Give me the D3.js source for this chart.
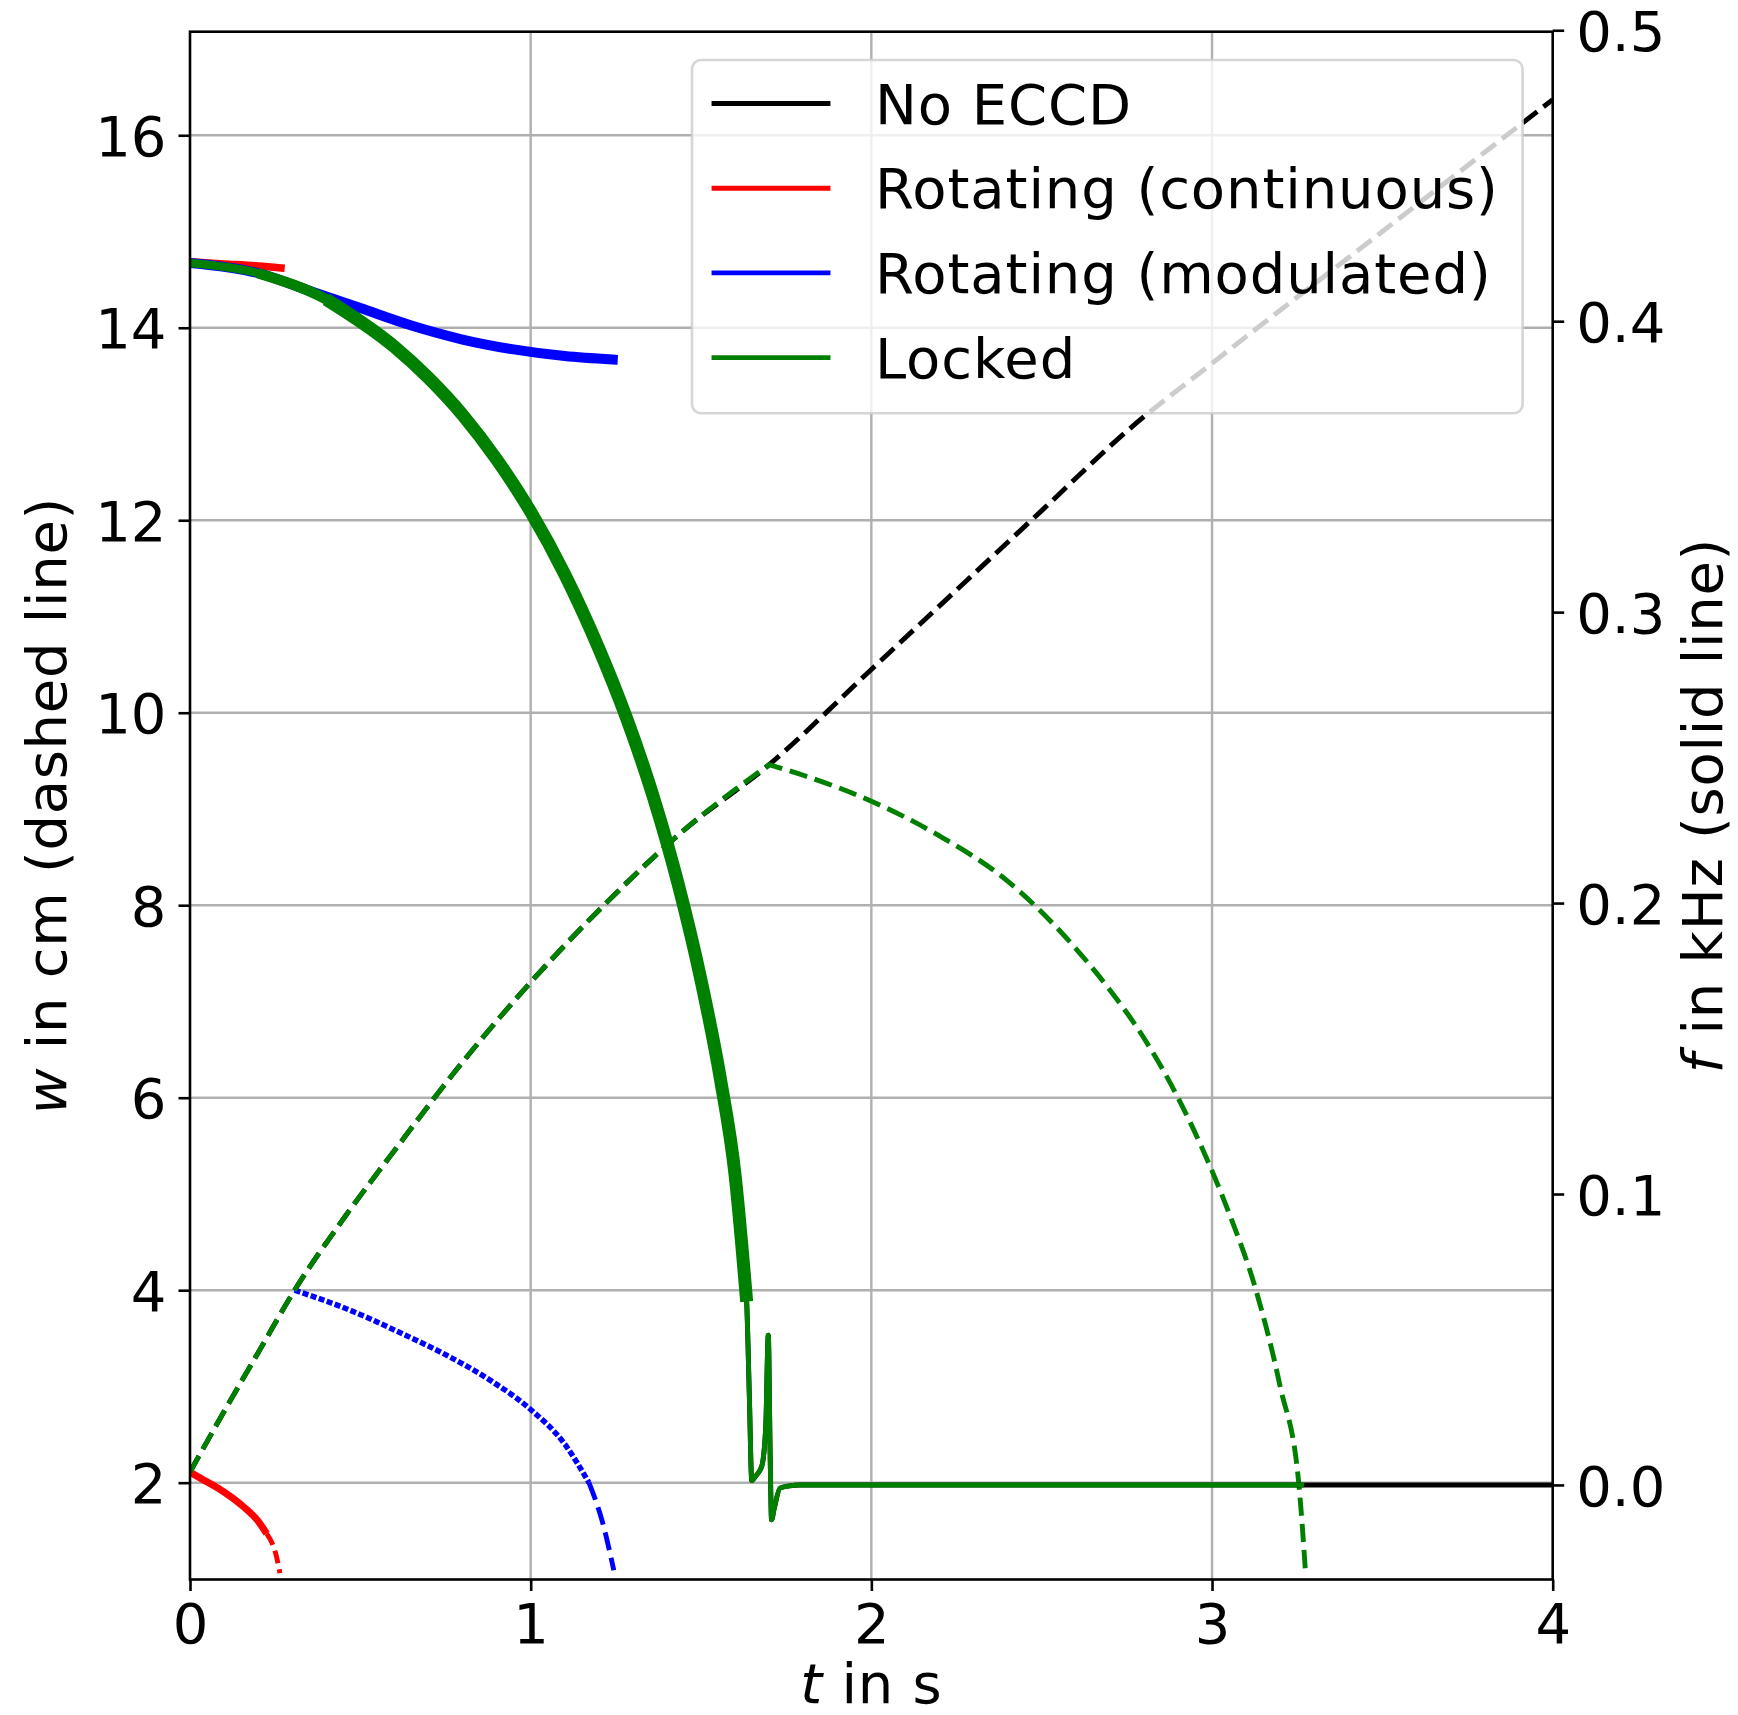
<!DOCTYPE html>
<html>
<head>
<meta charset="utf-8">
<script src="https://cdn.jsdelivr.net/npm/d3@7"></script>
<style>
  html, body { margin: 0; padding: 0; background: #fff; }
  svg { display: block; font-family: "DejaVu Sans", sans-serif; }
</style>
</head>
<body>
<svg id="chart" width="1738" height="1715"></svg>
<script>
// ---------------- data ----------------
const xTicks = [0, 1, 2, 3, 4];
const wTicks = [2, 4, 6, 8, 10, 12, 14, 16];
const fTicks = [0.0, 0.1, 0.2, 0.3, 0.4, 0.5];
const seriesNames = ["No ECCD", "Rotating (continuous)", "Rotating (modulated)", "Locked"];

// island width w (cm) vs time t (s)
const noEccdWT = [0, 0.1, 0.2, 0.307, 0.45, 0.602, 0.8, 1.0, 1.215, 1.45, 1.7, 2.0, 2.5, 2.758, 3.0, 3.5, 4.0];
const noEccdW  = [2.11, 2.74, 3.35, 4.0, 4.74, 5.46, 6.37, 7.2, 8.0, 8.78, 9.46, 10.45, 12.1, 12.95, 13.63, 15.0, 16.37];

const rotContWT = [0, 0.029, 0.084, 0.157, 0.2, 0.225, 0.254, 0.264];
const rotContW  = [2.11, 2.05, 1.94, 1.75, 1.6, 1.47, 1.23, 1.06];

const rotModWT = [0.307, 0.45, 0.622, 0.75, 0.883, 1.0, 1.1, 1.171, 1.21, 1.244];
const rotModW  = [4.0, 3.82, 3.55, 3.33, 3.06, 2.76, 2.4, 2.0, 1.6, 1.09];

const lockedWT = [0, 0.1, 0.2, 0.307, 0.45, 0.602, 0.8, 1.0, 1.215, 1.45, 1.7,
                  1.8, 2.0, 2.2, 2.4, 2.6, 2.7, 2.8, 2.9, 2.973, 3.05, 3.129, 3.2, 3.255, 3.274];
const lockedW  = [2.11, 2.74, 3.35, 4.0, 4.74, 5.46, 6.37, 7.2, 8.0, 8.78, 9.46,
                  9.35, 9.08, 8.72, 8.25, 7.55, 7.12, 6.62, 6.0, 5.46, 4.8, 4.0, 3.0, 1.98, 1.09];
const lockOnsetT = 1.7;

// mode frequency f (kHz) vs time t (s)
const noEccdFT = [0, 0.2, 0.4, 0.6, 0.7, 0.8, 0.9, 1.0, 1.1, 1.2, 1.28, 1.36, 1.433, 1.5, 1.557, 1.6, 1.634,
                  1.642, 1.649, 1.66, 1.678, 1.69, 1.6975, 1.703, 1.707, 1.715, 1.732, 1.76, 1.79, 4.0];
const noEccdF  = [0.420, 0.4165, 0.4075, 0.3912, 0.3805, 0.3678, 0.3525, 0.3345, 0.313, 0.2875, 0.264, 0.2365, 0.2065, 0.1735, 0.1395, 0.1065, 0.063,
                  0.03, 0.0015, 0.003, 0.0063, 0.02, 0.0515, 0.01, -0.012, -0.008, -0.0011, -0.0003, 0.0, 0.0];

const rotContFT = [0, 0.1, 0.2, 0.267];
const rotContF  = [0.4204, 0.4197, 0.419, 0.4183];

const rotModFT = [0, 0.2, 0.35, 0.5, 0.65, 0.8, 0.95, 1.1, 1.241];
const rotModF  = [0.420, 0.4165, 0.4105, 0.4045, 0.3985, 0.3937, 0.3903, 0.3880, 0.3868];

const lockedFT = [0, 0.2, 0.4, 0.6, 0.7, 0.8, 0.9, 1.0, 1.1, 1.2, 1.28, 1.36, 1.433, 1.5, 1.557, 1.6, 1.634,
                  1.642, 1.649, 1.66, 1.678, 1.69, 1.6975, 1.703, 1.707, 1.715, 1.732, 1.76, 1.79, 2.5, 3.27];
const lockedF  = [0.420, 0.4165, 0.4075, 0.3912, 0.3805, 0.3678, 0.3525, 0.3345, 0.313, 0.2875, 0.264, 0.2365, 0.2065, 0.1735, 0.1395, 0.1065, 0.063,
                  0.03, 0.0015, 0.003, 0.0063, 0.02, 0.0515, 0.01, -0.012, -0.008, -0.0011, -0.0003, 0.0, 0.0, 0.0];
const oscillationEndT = 1.634;

// ---------------- layout ----------------
const svg = d3.select("#chart");
const W = 1738, H = 1715;
const plot = { left: 190, right: 1552.7, top: 31.7, bottom: 1579.5 };
const FONT = 56;
const LW = 4.9;            // base line width
const DASH = "18.3,7.9";   // standard dash pattern
const colors = ["#000000", "#ff0000", "#0000ff", "#008000"];

svg.append("rect").attr("width", W).attr("height", H).attr("fill", "#fff");

const x = d3.scaleLinear().domain([0, 4]).range([plot.left, plot.right]);
const yW = d3.scaleLinear().domain([0.994, 17.076]).range([plot.bottom, plot.top]);
const yF = d3.scaleLinear().domain([-0.0325, 0.4995]).range([plot.bottom, plot.top]);

svg.append("defs").append("clipPath").attr("id", "plotclip")
  .append("rect")
  .attr("x", plot.left).attr("y", plot.top)
  .attr("width", plot.right - plot.left).attr("height", plot.bottom - plot.top);

// ---------------- grid ----------------
const grid = svg.append("g").attr("stroke", "#b0b0b0").attr("stroke-width", 2.4);
grid.selectAll("line.h").data(wTicks).join("line")
  .attr("x1", plot.left).attr("x2", plot.right)
  .attr("y1", d => yW(d)).attr("y2", d => yW(d));
grid.selectAll("line.v").data(xTicks.filter(d => d > 0 && d < 4)).join("line")
  .attr("y1", plot.top).attr("y2", plot.bottom)
  .attr("x1", d => x(d)).attr("x2", d => x(d));

// ---------------- line helpers ----------------
const pts = (ts, vs) => ts.map((t, i) => [t, vs[i]]);
const lineW = d3.line().x(d => x(d[0])).y(d => yW(d[1])).curve(d3.curveMonotoneX);
const lineF = d3.line().x(d => x(d[0])).y(d => yF(d[1])).curve(d3.curveMonotoneX);

function drawPath(g, d, color, width, dash, cap) {
  return g.append("path")
    .attr("d", d)
    .attr("fill", "none")
    .attr("stroke", color)
    .attr("stroke-width", width)
    .attr("stroke-linejoin", "round")
    .attr("stroke-linecap", cap || (dash ? "butt" : "square"))
    .attr("stroke-dasharray", dash || null);
}

const lines = svg.append("g").attr("clip-path", "url(#plotclip)");

// ---- dashed: island width w (left axis) ----
drawPath(lines, lineW(pts(noEccdWT, noEccdW)), colors[0], LW, DASH);

// continuous: fast modulation makes the dashes merge into a band
const rc = pts(rotContWT, rotContW);
drawPath(lines, lineW(rc.filter(d => d[0] <= 0.23)), colors[1], 7, null, "butt");
drawPath(lines, lineW(rc.filter(d => d[0] >= 0.225)), colors[1], LW, "13,6");

// modulated: dense ripple shortens the visible dashes
const rm = pts(rotModWT, rotModW);
drawPath(lines, lineW(rm.filter(d => d[0] <= 1.171)), colors[2], 5.5, "6,2.5");
drawPath(lines, lineW(rm.filter(d => d[0] >= 1.171)), colors[2], LW, DASH);

// locked: sharp turn at lock onset, keep both halves in one dashed path
const lw = pts(lockedWT, lockedW);
const lwA = lineW(lw.filter(d => d[0] <= lockOnsetT));
const lwB = lineW(lw.filter(d => d[0] >= lockOnsetT)).replace(/^M/, "L");
drawPath(lines, lwA + lwB, colors[3], LW, DASH);

// ---- solid: mode frequency f (right axis) ----
drawPath(lines, lineF(pts(noEccdFT, noEccdF)), colors[0], LW, null, "butt");
drawPath(lines, lineF(pts(rotContFT, rotContF)), colors[1], 7.5);
drawPath(lines, lineF(pts(rotModFT, rotModF)), colors[2], 10);

const lf = pts(lockedFT, lockedF);
drawPath(lines, lineF(lf), colors[3], LW, null, "butt");
// rotating phase carries a fast oscillation, drawn as a thicker band
drawPath(lines, lineF(lf.filter(d => d[0] <= 0.4)), colors[3], 8.5, null, "butt");
drawPath(lines, lineF(lf.filter(d => d[0] >= 0.2 && d[0] <= 0.6)), colors[3], 10.5, null, "butt");
drawPath(lines, lineF(lf.filter(d => d[0] >= 0.4 && d[0] <= oscillationEndT)), colors[3], 13, null, "butt");

// ---------------- legend ----------------
const leg = svg.append("g");
leg.append("rect")
  .attr("x", 692).attr("y", 60).attr("width", 830.6).attr("height", 353.3)
  .attr("rx", 9).attr("ry", 9)
  .attr("fill", "#fff").attr("fill-opacity", 0.8)
  .attr("stroke", "#cccccc").attr("stroke-opacity", 0.8).attr("stroke-width", 2.6);
const legY0 = 103.5, legDy = 84.7;
seriesNames.forEach((name, i) => {
  const yy = legY0 + i * legDy;
  leg.append("line")
    .attr("x1", 714).attr("x2", 828).attr("y1", yy).attr("y2", yy)
    .attr("stroke", colors[i]).attr("stroke-width", LW).attr("stroke-linecap", "square");
  leg.append("text")
    .attr("x", 875).attr("y", yy).attr("dy", "0.36em")
    .attr("font-size", FONT).attr("letter-spacing", 0.9).attr("fill", "#000")
    .text(name);
});

// ---------------- axes ----------------
svg.append("rect")
  .attr("x", plot.left).attr("y", plot.top)
  .attr("width", plot.right - plot.left).attr("height", plot.bottom - plot.top)
  .attr("fill", "none").attr("stroke", "#000").attr("stroke-width", 2.6);

function styleAxis(g) {
  g.select(".domain").remove();
  g.selectAll(".tick line").attr("stroke", "#000").attr("stroke-width", 2.6);
  g.selectAll(".tick text").attr("font-size", FONT).attr("fill", "#000")
    .attr("font-family", "DejaVu Sans, sans-serif");
}

const axB = svg.append("g").attr("transform", `translate(0,${plot.bottom})`)
  .call(d3.axisBottom(x).tickValues(xTicks).tickFormat(d3.format("d")).tickSize(11.5).tickPadding(12));
styleAxis(axB);

const axL = svg.append("g").attr("transform", `translate(${plot.left},0)`)
  .call(d3.axisLeft(yW).tickValues(wTicks).tickFormat(d3.format("d")).tickSize(11.5).tickPadding(12));
styleAxis(axL);
axL.selectAll(".tick text").attr("dy", "0.36em");

const axR = svg.append("g").attr("transform", `translate(${plot.right},0)`)
  .call(d3.axisRight(yF).tickValues(fTicks).tickFormat(d3.format(".1f")).tickSize(11.5).tickPadding(12));
styleAxis(axR);
axR.selectAll(".tick text").attr("dy", "0.36em");

// ---------------- axis labels ----------------
const xl = svg.append("text")
  .attr("x", (plot.left + plot.right) / 2).attr("y", 1703)
  .attr("text-anchor", "middle").attr("font-size", FONT).attr("letter-spacing", 0.7).attr("fill", "#000");
xl.append("tspan").attr("font-style", "italic").text("t");
xl.append("tspan").text(" in s");

const midY = (plot.top + plot.bottom) / 2;
const yl = svg.append("text")
  .attr("transform", `translate(66,${midY}) rotate(-90)`)
  .attr("text-anchor", "middle").attr("font-size", FONT).attr("letter-spacing", 0.7).attr("fill", "#000");
yl.append("tspan").attr("font-style", "italic").text("w");
yl.append("tspan").text(" in cm (dashed line)");

const yr = svg.append("text")
  .attr("transform", `translate(1722,${midY}) rotate(-90)`)
  .attr("text-anchor", "middle").attr("font-size", FONT).attr("letter-spacing", 0.7).attr("fill", "#000");
yr.append("tspan").attr("font-style", "italic").text("f");
yr.append("tspan").text(" in kHz (solid line)");
</script>
</body>
</html>
